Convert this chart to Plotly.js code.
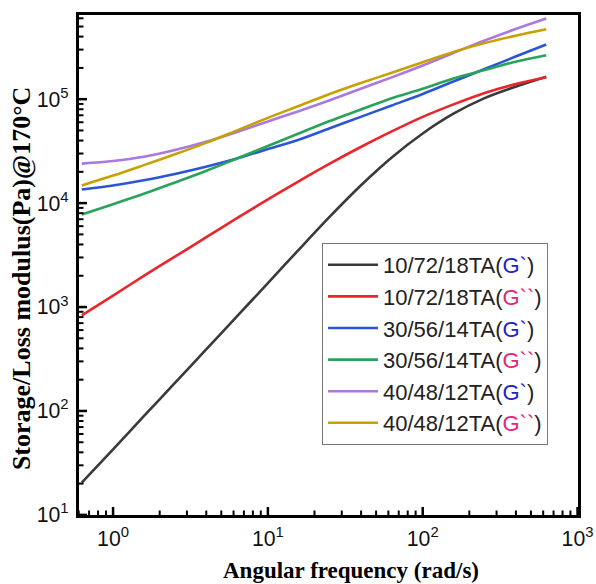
<!DOCTYPE html>
<html>
<head>
<meta charset="utf-8">
<script src="https://cdn.plot.ly/plotly-3.0.1.min.js"></script>
<style>html,body{margin:0;padding:0;background:#fff;}#chart{width:596px;height:584px;}</style>
</head>
<body>
<div id="chart"></div>
<script>
// Angular frequency (rad/s)
const freq = [0.628, 1, 1.58, 2.51, 3.98, 6.31, 10, 15.8, 25.1, 39.8, 63.1, 100, 158, 251, 398, 628];

// Moduli (Pa)
const g1_10_72_18 = [20.4, 42.7, 89.1, 186, 389, 813, 1700, 3550, 7410, 14790, 27540, 46770, 72440, 102300, 131800, 164100];
const g2_10_72_18 = [832, 1288, 1995, 3055, 4677, 7161, 10840, 16220, 23990, 34670, 48980, 67610, 89130, 114800, 139600, 162200];
const g1_30_56_14 = [13500, 14800, 16600, 19100, 22400, 26900, 33100, 40700, 52500, 67600, 87100, 112200, 147900, 195000, 257000, 336000];
const g2_30_56_14 = [7760, 9770, 12300, 15800, 20400, 26900, 35500, 46800, 61700, 79400, 102300, 125900, 158500, 190500, 229000, 265000];
const g1_40_48_12 = [24000, 25400, 27900, 32400, 38900, 48400, 61000, 76700, 97700, 125900, 162200, 211300, 278600, 367300, 473200, 597000];
const g2_40_48_12 = [14800, 18400, 23200, 29500, 38000, 50100, 66100, 86100, 112200, 142900, 179900, 226500, 285100, 346700, 407400, 471000];

const seriesNames = [
  '10/72/18TA(<span style="color:#2222cc">G`</span>)',
  '10/72/18TA(<span style="color:#e8237a">G``</span>)',
  '30/56/14TA(<span style="color:#2222cc">G`</span>)',
  '30/56/14TA(<span style="color:#e8237a">G``</span>)',
  '40/48/12TA(<span style="color:#2222cc">G`</span>)',
  '40/48/12TA(<span style="color:#e8237a">G``</span>)'
];
const seriesValues = [g1_10_72_18, g2_10_72_18, g1_30_56_14, g2_30_56_14, g1_40_48_12, g2_40_48_12];
const seriesColors = ['#3a3a3a', '#e8262c', '#2b55d6', '#2aa35a', '#a978e0', '#c9a004'];

// Tick labels (default Plotly log text -> displayed text)
const tickDefault = ['1', '10'];
const tickText = ['10<sup>0</sup>', '10<sup>1</sup>'];
const labelAlias = {};
tickDefault.forEach((d, i) => { labelAlias[d] = tickText[i]; });

// Tick positions (major decades, minor digits)
const xDecades = [0.1, 1, 10, 100, 1000];
const yDecades = [10, 100, 1000, 10000, 100000];
const minorDigits = [2, 3, 4, 5, 6, 7, 8, 9];
const xMin = 0.6, xMax = 1008, yMin = 10, yMax = 6.5e5;

const xTitle = '<b>Angular frequency (rad/s)</b>';
const yTitle = '<b>Storage/Loss modulus(Pa)@170°C</b>';

const traces = seriesValues.map((vals, i) => ({
  x: freq, y: vals, type: 'scatter', mode: 'lines',
  name: seriesNames[i],
  line: {color: seriesColors[i], width: 2.6, shape: 'spline', smoothing: 0.9}
}));

// Inside tick marks built from the tick positions above
const plotW = 596 - 79 - 18, plotH = 584 - 15 - 69;
const shapes = [];
function xTick(v, len, w) {
  shapes.push({type: 'line', xref: 'x', yref: 'paper', x0: v, x1: v, y0: 0, y1: len / plotH,
    line: {color: '#000', width: w}, layer: 'above'});
}
function yTick(v, len, w) {
  shapes.push({type: 'line', xref: 'paper', yref: 'y', x0: 0, x1: len / plotW, y0: v, y1: v,
    line: {color: '#000', width: w}, layer: 'above'});
}
xDecades.forEach(d => {
  if (d >= xMin && d <= xMax) xTick(d, 8, 2.5);
  minorDigits.forEach(m => { const v = d * m; if (v >= xMin && v <= xMax) xTick(v, 4.5, 2); });
});
yDecades.forEach(d => {
  if (d >= yMin && d <= yMax) yTick(d, 8, 2.5);
  minorDigits.forEach(m => { const v = d * m; if (v >= yMin && v <= yMax) yTick(v, 4.5, 2); });
});

const axisCommon = {
  type: 'log', showgrid: false, zeroline: false,
  showline: true, linecolor: '#000', linewidth: 3, mirror: true,
  tickmode: 'linear', tick0: 0, dtick: 1,
  exponentformat: 'power', showexponent: 'all',
  labelalias: labelAlias,
  ticks: '',
  tickfont: {family: 'Liberation Sans, Arial, sans-serif', size: 17, color: '#111'}
};

const serifFont = {family: 'Liberation Serif, Times New Roman, serif', color: '#000'};

const layout = {
  width: 596, height: 584,
  margin: {l: 79, r: 18, t: 15, b: 69},
  paper_bgcolor: '#fff', plot_bgcolor: '#fff',
  showlegend: true,
  xaxis: Object.assign({}, axisCommon, {
    range: [-0.22, 3.003], ticklabelstandoff: 3
  }),
  yaxis: Object.assign({}, axisCommon, {
    range: [0.999, 5.81], ticklabelstandoff: 4
  }),
  shapes: shapes,
  annotations: [
    {text: xTitle, xref: 'paper', yref: 'paper', x: 0.545, y: -0.11,
     xanchor: 'center', yanchor: 'middle', showarrow: false,
     font: Object.assign({size: 23}, serifFont)},
    {text: yTitle, xref: 'paper', yref: 'paper', x: -0.116, y: 0.472,
     xanchor: 'center', yanchor: 'middle', showarrow: false, textangle: -90,
     font: Object.assign({size: 26}, serifFont)}
  ],
  legend: {
    x: 0.487, y: 0.544, xanchor: 'left', yanchor: 'top',
    bgcolor: '#fff', bordercolor: '#777', borderwidth: 1,
    itemwidth: 50,
    font: {family: 'Liberation Sans, Arial, sans-serif', size: 22, color: '#222'},
    tracegroupgap: 0
  }
};

Plotly.newPlot('chart', traces, layout, {displayModeBar: false, staticPlot: true});
</script>
</body>
</html>
